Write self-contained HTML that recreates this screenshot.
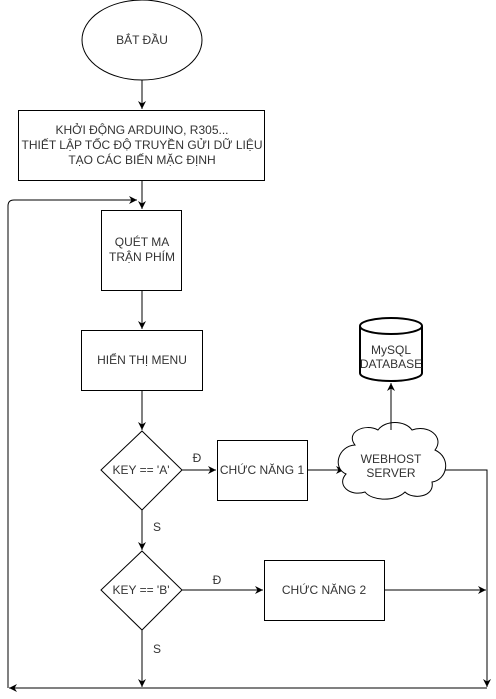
<!DOCTYPE html>
<html><head><meta charset="utf-8"><style>
html,body{margin:0;padding:0;background:#fff;}
svg{display:block}
text{font-family:"Liberation Sans",sans-serif;font-size:12px;fill:#333;text-anchor:middle}
</style></head><body>
<svg width="496" height="699" viewBox="0 0 496 699" xmlns="http://www.w3.org/2000/svg">
<defs><marker id="a" markerWidth="10" markerHeight="10" refX="8" refY="5" orient="auto" markerUnits="userSpaceOnUse"><path d="M0,1 L8,5 L0,9 L2.5,5 Z" fill="#000"/></marker></defs>
<g fill="none" stroke="#000" stroke-width="1">
<ellipse cx="142" cy="40" rx="60" ry="40" fill="#fff"/>
<line x1="142" y1="80" x2="142" y2="109" marker-end="url(#a)"/>
<rect x="18.5" y="110.5" width="246" height="70" fill="#fff"/>
<line x1="142" y1="180" x2="142" y2="209" marker-end="url(#a)"/>
<path d="M8,688 L8,206 Q8,200 14,200 L137,200" marker-end="url(#a)"/>
<rect x="101.5" y="210.5" width="80" height="80" fill="#fff"/>
<line x1="142" y1="290" x2="142" y2="329" marker-end="url(#a)"/>
<rect x="81.5" y="330.5" width="121" height="60" fill="#fff"/>
<line x1="142" y1="390" x2="142" y2="430" marker-end="url(#a)"/>
<polygon points="142,431 182,470 142,510 101,470" fill="#fff"/>
<line x1="182" y1="470" x2="216" y2="470" marker-end="url(#a)"/>
<rect x="217.5" y="440.5" width="90" height="60" fill="#fff"/>
<line x1="307" y1="470" x2="344" y2="470" marker-end="url(#a)"/>
<path d="M355,445 C345,432 365,423 378,430 C385,420 405,420 412,430 C428,424 445,437 435,450 C452,458 447,480 432,482 C435,497 413,500 405,492 C395,502 372,501 365,492 C350,497 336,485 346,474 C332,468 338,446 355,445 Z" fill="#fff"/>
<line x1="391" y1="430" x2="391" y2="383" marker-end="url(#a)"/>
<path d="M360,326 L360,373 A31,8 0 0 0 422,373 L422,326 A31,8 0 0 0 360,326 A31,8 0 0 0 422,326" fill="#fff" stroke-width="2"/>
<path d="M445,470 L487,470 L487,687" marker-end="url(#a)"/>
<line x1="142" y1="510" x2="142" y2="550" marker-end="url(#a)"/>
<polygon points="142,551 182,590 142,630 101,590" fill="#fff"/>
<line x1="182" y1="590" x2="263" y2="590" marker-end="url(#a)"/>
<rect x="264.5" y="560.5" width="120" height="60" fill="#fff"/>
<line x1="384" y1="590" x2="486" y2="590" marker-end="url(#a)"/>
<line x1="142" y1="630" x2="142" y2="687" marker-end="url(#a)"/>
<line x1="487" y1="688" x2="9" y2="688" marker-end="url(#a)"/>
</g>
<text x="142" y="44">BẮT ĐẦU</text>
<text x="142" y="134">KHỞI ĐỘNG ARDUINO, R305...</text>
<text x="142" y="149">THIẾT LẬP TỐC ĐỘ TRUYỀN GỬI DỮ LIỆU</text>
<text x="142" y="164">TẠO CÁC BIẾN MẶC ĐỊNH</text>
<text x="142" y="246">QUÉT MA</text>
<text x="142" y="261">TRẬN PHÍM</text>
<text x="142" y="364">HIỂN THỊ MENU</text>
<text x="141" y="474">KEY == 'A'</text>
<text x="197" y="462">Đ</text>
<text x="262" y="474">CHỨC NĂNG 1</text>
<text x="391" y="463">WEBHOST</text>
<text x="391" y="477">SERVER</text>
<text x="391" y="354">MySQL</text>
<text x="391" y="368">DATABASE</text>
<text x="157" y="531">S</text>
<text x="141" y="594">KEY == 'B'</text>
<text x="217" y="584">Đ</text>
<text x="324" y="594">CHỨC NĂNG 2</text>
<text x="157" y="653">S</text>
</svg>
</body></html>
